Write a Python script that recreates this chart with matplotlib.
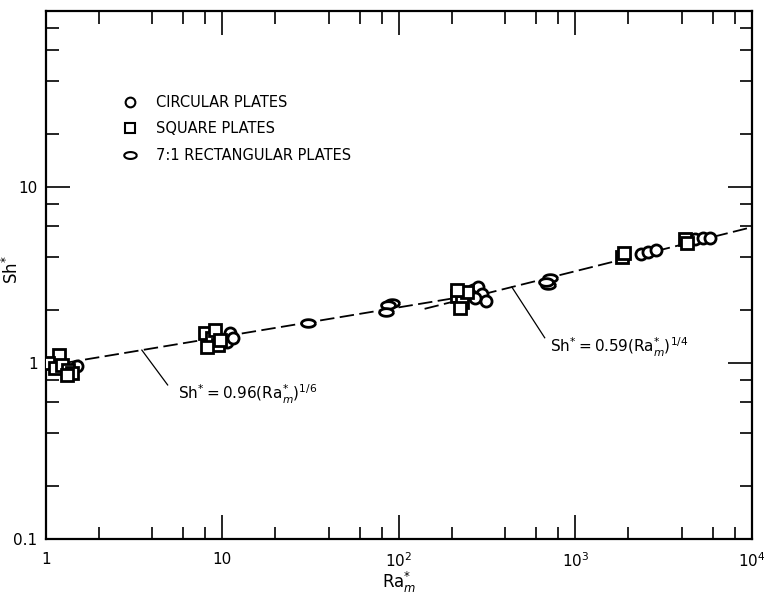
import numpy as np
import matplotlib
matplotlib.use("Agg")
import matplotlib.pyplot as plt
from matplotlib.lines import Line2D

plt.rcParams['font.family'] = ['DejaVu Sans']
plt.rcParams['mathtext.fontset'] = 'dejavusans'

# circular plates
circ_ra = [1.5, 11.0, 10.6, 11.5, 262, 282, 295, 310, 270,
           2360, 2590, 2860, 4770, 5290, 5800]
circ_sh = [0.96, 1.48, 1.32, 1.39, 2.60, 2.70, 2.47, 2.25, 2.34,
           4.16, 4.27, 4.38, 5.06, 5.13, 5.13]

# square plates
sq_ra = [1.18, 1.03, 1.12, 1.23, 1.33, 1.40, 1.31,
         7.97, 8.7, 9.4, 8.15, 9.05, 9.67,
         215, 228, 222, 242, 215,
         1830, 1880, 4190, 4310]
sq_sh = [1.11, 1.00, 0.94, 0.97, 0.91, 0.88, 0.85,
         1.48, 1.39, 1.27, 1.23, 1.54, 1.35,
         2.40, 2.22, 2.05, 2.53, 2.60,
         4.00, 4.21, 5.06, 4.80]

# 7:1 rectangular plates
rect_ra = [30.4, 91, 86.4, 85, 718, 700, 680]
rect_sh = [1.69, 2.19, 2.13, 1.95, 3.04, 2.77, 2.89]

# correlations Sh* = C * Ra^n and the Ra range each one is drawn over
fit1_c, fit1_n, fit1_range = 0.96, 1 / 6, [1, 280]
fit2_c, fit2_n, fit2_range = 0.59, 1 / 4, [140, 1e4]

# leader lines: point on the fit line -> end near the label
lead1_ra, lead1_end = [3.5, 4.9], 0.75
lead2_ra, lead2_end = [437, 671], 1.39

x_ticks = [1, 10, 100, 1000, 10000]
x_labels = ['1', '10', r'$10^2$', r'$10^3$', r'$10^4$']
y_ticks = [0.1, 1, 10, 100]
y_labels = ['0.1', '1', '10', '']

t = np.linspace(0, 2 * np.pi, 41)
lens = list(zip(np.cos(t), 0.55 * np.sin(t)))

fig = plt.figure(figsize=(7.64, 5.95), dpi=100)
ax = fig.add_axes([0.060, 0.094, 0.924, 0.888])
ax.set_xscale('log')
ax.set_yscale('log')
ax.set_xlim(1, 1e4)
ax.set_ylim(0.1, 100)

for rng, c, n in [(fit1_range, fit1_c, fit1_n), (fit2_range, fit2_c, fit2_n)]:
    xs = np.array(rng, dtype=float)
    ax.plot(xs, c * xs ** n, color='black', lw=1.3, dashes=(8, 3), zorder=1)

mk = dict(linestyle='none', markerfacecolor='white', markeredgecolor='black',
          markeredgewidth=2.0, zorder=3)
ax.plot(circ_ra, circ_sh, marker='o', markersize=8, **mk)
ax.plot(sq_ra, sq_sh, marker='s', markersize=8, **mk)
ax.plot(rect_ra, rect_sh, marker=lens, markersize=10, **mk)

handles = [
    Line2D([], [], marker='o', markersize=7, linestyle='none', markerfacecolor='white',
           markeredgecolor='black', markeredgewidth=1.5),
    Line2D([], [], marker='s', markersize=7, linestyle='none', markerfacecolor='white',
           markeredgecolor='black', markeredgewidth=1.5),
    Line2D([], [], marker=lens, markersize=9, linestyle='none', markerfacecolor='white',
           markeredgecolor='black', markeredgewidth=1.5),
]
ax.legend(handles, ['CIRCULAR PLATES', 'SQUARE PLATES', '7:1 RECTANGULAR PLATES'],
          loc='upper left', bbox_to_anchor=(0.088, 0.866), frameon=False,
          fontsize=10.5, handletextpad=1.2, labelspacing=0.8, handlelength=1.2)

# equation labels with leader lines
for ra, end, c, n in [(lead1_ra, lead1_end, fit1_c, fit1_n),
                      (lead2_ra, lead2_end, fit2_c, fit2_n)]:
    ax.plot(ra, [c * ra[0] ** n, end], color='black', lw=0.9, zorder=2)
ax.text(5.6, 0.66, r'$\mathrm{Sh}^{*} = 0.96(\mathrm{Ra}_{m}^{*})^{1/6}$',
        fontsize=11, ha='left', va='center')
ax.text(717, 1.22, r'$\mathrm{Sh}^{*}= 0.59(\mathrm{Ra}_{m}^{*})^{1/4}$',
        fontsize=11, ha='left', va='center')

ax.set_xticks(x_ticks)
ax.set_xticklabels(x_labels)
ax.set_yticks(y_ticks)
ax.set_yticklabels(y_labels)
ax.set_xticks([m * 10 ** k for k in range(4) for m in (2, 4, 6, 8)], minor=True)
ax.set_yticks([m * 10 ** k for k in range(-1, 2) for m in (2, 4, 6, 8)], minor=True)
ax.xaxis.set_minor_formatter(plt.NullFormatter())
ax.yaxis.set_minor_formatter(plt.NullFormatter())
ax.tick_params(which='both', direction='in', top=True, right=True, labelsize=11,
               color='black', width=1.2)
ax.tick_params(which='major', length=17)
ax.tick_params(which='minor', length=9)
ax.tick_params(axis='x', which='major', pad=9)
ax.tick_params(axis='y', which='major', pad=6)

for s in ax.spines.values():
    s.set_linewidth(1.6)

ax.set_xlabel(r'$\mathrm{Ra}_{m}^{*}$', fontsize=12, labelpad=0)
ax.set_ylabel(r'$\mathrm{Sh}^{*}$', fontsize=12)
ax.yaxis.set_label_coords(-0.034, 0.51)

fig.savefig('out.png', dpi=100)
